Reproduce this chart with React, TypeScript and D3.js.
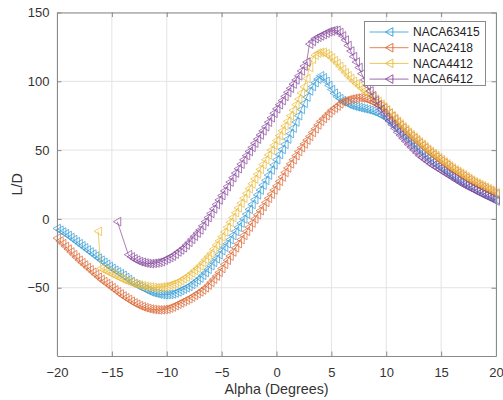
import React, { useEffect, useRef } from 'react'
import * as d3 from 'd3'

// angle of attack grid, degrees
const alphaStep = 0.25
const alphaDeg = d3.range(-20, 20 + alphaStep / 2, alphaStep)

// L/D, one value per alpha (null = no point), rows of 2 degrees
const naca63415 = [
  -7, -8.2, -9.5, -10.8, -12, -13.5, -15, -16.5,
  -18, -19.5, -21, -22.5, -24, -25.5, -27, -28.5,
  -30, -31.5, -33, -34.5, -36, -37.3, -38.5, -39.8,
  -41, -42.5, -44, -45.5, -47, -48, -49, -50,
  -51, -52, -53, -53.6, -54, -54.6, -55, -55.1,
  -55, -54.8, -54.5, -53.8, -53, -52, -51, -50,
  -49, -47.6, -46, -44.6, -43, -41, -39, -36.6,
  -34, -31.6, -29, -26, -23, -20.5, -18, -15,
  -12, -9, -6, -3, 0, 3.5, 7, 10.5,
  14, 17.5, 21, 24.5, 28, 31.8, 35.5, 39.2,
  43, 46.8, 50.5, 54.2, 58, 62, 66, 70.4,
  75, 79.5, 84, 88.5, 93, 96.2, 99, 101.6,
  104, 102.5, 100, 97, 94, 91.3, 89, 87.4,
  86, 84.7, 83.5, 82.7, 82, 81.5, 81, 80.5,
  80, 79.5, 79, 78.3, 77.5, 76.6, 75.5, 74.3,
  73, 71.3, 69.5, 67.8, 66, 64, 62, 60,
  58, 56, 54, 52, 50, 48.2, 46.5, 44.7,
  43, 41.5, 40, 38.5, 37, 35.5, 34, 32.5,
  31, 29.7, 28.5, 27.2, 26, 24.7, 23.5, 22.2,
  21, 20, 19, 18, 17, 16.2, 15.5, 14.7,
  14,
]
const naca2418 = [
  -14, -16, -18, -20, -22, -24, -26, -28,
  -30, -31.8, -33.5, -35.3, -37, -38.8, -40.5, -42.3,
  -44, -45.5, -47, -48.5, -50, -51.5, -53, -54.5,
  -56, -57.3, -58.5, -59.8, -61, -62, -63, -63.8,
  -64.5, -65, -65.5, -65.8, -66, -66.1, -66, -65.8,
  -65.5, -64.8, -64, -63, -62, -61, -60, -59,
  -58, -56.8, -55.5, -54.3, -53, -51.6, -50, -48.1,
  -46, -43.8, -41.5, -38.8, -36, -33, -30, -27,
  -24, -21, -18, -15, -12, -9, -6, -3,
  0, 3, 6, 9, 12, 15, 18, 21,
  24, 27.3, 30.5, 33.8, 37, 40, 43, 46,
  49, 51.8, 54.5, 57.3, 60, 62.8, 65.5, 68.3,
  71, 73, 75, 77, 79, 80.5, 82, 83.6,
  85, 85.8, 86.5, 87, 87.5, 87.8, 88, 87.8,
  87.5, 86.8, 86, 85, 84, 83, 82, 80.6,
  79, 76.8, 74.5, 72.3, 70, 68, 66, 64,
  62, 60.2, 58.5, 56.8, 55, 53.2, 51.5, 49.7,
  48, 46.5, 45, 43.5, 42, 40.5, 39, 37.5,
  36, 34.7, 33.5, 32.2, 31, 29.7, 28.5, 27.2,
  26, 25, 24, 23, 22, 21, 20, 19,
  18,
]
const naca4412 = [
  null, null, null, null, null, null, null, null,
  null, null, null, null, null, null, null, -9,
  -36, -37, -38, -39, -40, -41, -42, -43,
  -44, -44.8, -45.5, -46.3, -47, -47.5, -48, -48.5,
  -49, -49.3, -49.5, -49.8, -50, -49.8, -49.5, -49.3,
  -49, -48.3, -47.5, -46.8, -46, -44.8, -43.5, -42.3,
  -41, -39.3, -37.5, -35.8, -34, -31.8, -29.5, -27.3,
  -25, -22, -19, -16, -13, -9.5, -6, -2.5,
  1, 4.5, 8, 11.5, 15, 18.5, 22, 25.5,
  29, 32.5, 36, 39.5, 43, 46.5, 50, 53.5,
  57, 60.5, 64, 67.5, 71, 75, 79, 83,
  87, 91.5, 96, 102, 110, 116, 119, 120.5,
  121, 121, 120, 118.7, 117, 115, 113, 110.8,
  108.5, 106.2, 104, 102, 100, 98.2, 96.5, 94.7,
  93, 91.5, 90, 88.5, 87, 85.3, 83.5, 81.3,
  79, 77, 75, 73, 71, 69, 67, 65,
  63, 61.2, 59.5, 57.7, 56, 54.2, 52.5, 50.7,
  49, 47.5, 46, 44.5, 43, 41.5, 40, 38.5,
  37, 35.7, 34.5, 33.2, 32, 30.7, 29.5, 28.2,
  27, 26, 25, 24, 23, 22, 21, 20,
  19,
]
const naca6412 = [
  null, null, null, null, null, null, null, null,
  null, null, null, null, null, null, null, null,
  null, null, null, null, null, null, -2, null,
  null, null, -26, -27.6, -29, -30, -31, -31.5,
  -32, -32.3, -32.5, -32.3, -32, -31.6, -31, -30,
  -29, -28, -27, -25.6, -24, -22.6, -21, -19,
  -17, -14.8, -12.5, -10.3, -8, -5, -2, 1,
  4, 7.3, 10.5, 13.8, 17, 20.3, 23.5, 26.8,
  30, 33.3, 36.5, 39.8, 43, 46, 49, 52,
  55, 58, 61, 64, 67, 70.3, 73.5, 76.8,
  80, 83, 86, 89, 92, 95, 98, 101,
  104, 107.5, 111, 114, 127, 129, 131, 132,
  133, 134, 135, 136, 136.5, 137, 137, 135.5,
  133, 130, 126, 122, 118, 114, 110, 105.5,
  101, 97, 93, 89.5, 86, 82.7, 79.5, 76.8,
  74, 71.3, 68.5, 65.8, 63, 60.8, 58.5, 56.3,
  54, 52, 50, 48, 46, 44.5, 43, 41.5,
  40, 38.7, 37.5, 36.2, 35, 33.7, 32.5, 31.2,
  30, 28.7, 27.5, 26.2, 25, 24, 23, 22,
  21, 20, 19, 18, 17, 16, 15, 14,
  13,
]

const seriesNames = ['NACA63415', 'NACA2418', 'NACA4412', 'NACA6412']
const seriesValues = [naca63415, naca2418, naca4412, naca6412]
const seriesColors = ['#319bd6', '#da6430', '#e9b933', '#87469c']

const xTicks = [-20, -15, -10, -5, 0, 5, 10, 15, 20]
const yTicks = [-50, 0, 50, 100, 150]

const font = '"Liberation Sans", Arial, Helvetica, sans-serif'

export default function App() {
  const svgRef = useRef<SVGSVGElement>(null)

  useEffect(() => {
    const w = 503
    const h = 400
    const margin = { top: 12.5, right: 7, bottom: 44, left: 57 }
    const gw = w - margin.left - margin.right
    const gh = h - margin.top - margin.bottom

    const svg = d3.select(svgRef.current)
    svg.selectAll('*').remove()

    const x = d3.scaleLinear().domain([-20, 20]).range([0, gw])
    const y = d3.scaleLinear().domain([-99.6, 150]).range([gh, 0])

    const g = svg.append('g').attr('transform', `translate(${margin.left}, ${margin.top})`)

    // grid
    g.append('g').selectAll('line').data(xTicks).join('line')
      .attr('x1', d => x(d)).attr('x2', d => x(d)).attr('y1', 0).attr('y2', gh)
      .attr('stroke', '#e3e3e3').attr('stroke-width', 1)
    g.append('g').selectAll('line').data(yTicks).join('line')
      .attr('y1', d => y(d)).attr('y2', d => y(d)).attr('x1', 0).attr('x2', gw)
      .attr('stroke', '#e3e3e3').attr('stroke-width', 1)

    // series: thin line plus '<' markers
    const marker = 'M-4,0L3.4,-4.3L3.4,4.3Z'
    seriesValues.forEach((vals, i) => {
      const pts = alphaDeg.map((a, j) => [a, vals[j]] as [number, number | null]).filter(p => p[1] !== null) as [number, number][]
      const line = d3.line<[number, number]>().x(d => x(d[0])).y(d => y(d[1]))
      const sg = g.append('g')
      sg.append('path').datum(pts).attr('d', line).attr('fill', 'none')
        .attr('stroke', seriesColors[i]).attr('stroke-width', 0.7)
      sg.selectAll('path.m').data(pts).join('path').attr('class', 'm')
        .attr('d', marker)
        .attr('transform', d => `translate(${x(d[0])},${y(d[1])})`)
        .attr('fill', 'none').attr('stroke', seriesColors[i]).attr('stroke-width', 0.7)
    })

    // axes with inward ticks on all four sides
    const axisColor = '#8a8a8a'
    const styleAxis = (sel: any) => {
      sel.selectAll('.domain').attr('stroke', axisColor)
      sel.selectAll('.tick line').attr('stroke', axisColor)
      sel.selectAll('text').attr('fill', '#333').attr('font-size', 13).attr('font-family', font)
    }
    g.append('g').attr('transform', `translate(0, ${gh})`)
      .call(d3.axisBottom(x).tickValues(xTicks).tickSizeInner(-4.5).tickSizeOuter(0).tickPadding(11.5))
      .call(styleAxis)
    g.append('g')
      .call(d3.axisLeft(y).tickValues(yTicks).tickSizeInner(-4.5).tickSizeOuter(0).tickPadding(7.5))
      .call(styleAxis)
    g.append('g')
      .call(d3.axisTop(x).tickValues(xTicks).tickSizeInner(-4.5).tickSizeOuter(0).tickFormat(() => ''))
      .call(styleAxis)
    g.append('g').attr('transform', `translate(${gw}, 0)`)
      .call(d3.axisRight(y).tickValues(yTicks).tickSizeInner(-4.5).tickSizeOuter(0).tickFormat(() => ''))
      .call(styleAxis)

    // axis labels
    svg.append('text').text('Alpha (Degrees)')
      .attr('x', margin.left + gw / 2).attr('y', 394)
      .attr('text-anchor', 'middle').attr('font-size', 14.3).attr('font-family', font).attr('fill', '#333')
    svg.append('text').text('L/D')
      .attr('transform', `translate(22, ${margin.top + gh / 2}) rotate(-90)`)
      .attr('text-anchor', 'middle').attr('font-size', 14.3).attr('font-family', font).attr('fill', '#333')

    // legend
    const lg = svg.append('g').attr('transform', 'translate(364.5, 21.5)')
    lg.append('rect').attr('width', 121).attr('height', 64)
      .attr('fill', '#fff').attr('stroke', axisColor).attr('stroke-width', 1)
    seriesNames.forEach((name, i) => {
      const cy = 10.5 + i * 15.7
      lg.append('line').attr('x1', 5).attr('x2', 44).attr('y1', cy).attr('y2', cy)
        .attr('stroke', seriesColors[i]).attr('stroke-width', 0.8)
      lg.append('path').attr('d', marker).attr('transform', `translate(25, ${cy})`)
        .attr('fill', 'none').attr('stroke', seriesColors[i]).attr('stroke-width', 0.9)
      lg.append('text').text(name).attr('x', 48.5).attr('y', cy).attr('dy', '0.36em')
        .attr('font-size', 12).attr('font-family', font).attr('fill', '#222')
    })
  }, [])

  return (
    <svg ref={svgRef} width={503} height={400}
      style={{ position: 'absolute', left: 0, top: 0, background: '#fff' }} />
  )
}
